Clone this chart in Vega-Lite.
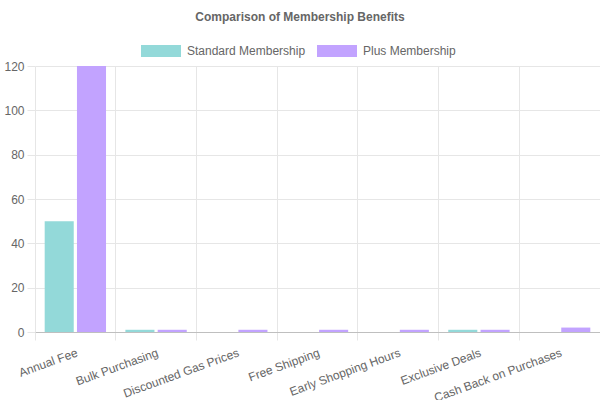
{
  "$schema": "https://vega.github.io/schema/vega-lite/v6.json",
  "autosize": {"type": "none"},
  "padding": {"left": 35, "top": 66, "right": 0, "bottom": 68},
  "width": 565,
  "height": 266,
  "background": "white",
  "title": {
    "text": "Comparison of Membership Benefits",
    "anchor": "middle",
    "frame": "group",
    "dx": -17.5,
    "fontSize": 12,
    "fontWeight": "bold",
    "color": "#666666",
    "font": "Liberation Sans",
    "offset": 7
  },
  "config": {
    "view": {"stroke": null},
    "font": "Liberation Sans"
  },
  "data": {
    "values": [
      {"benefit": "Annual Fee", "plan": "Standard Membership", "value": 50},
      {"benefit": "Annual Fee", "plan": "Plus Membership", "value": 120},
      {"benefit": "Bulk Purchasing", "plan": "Standard Membership", "value": 1},
      {"benefit": "Bulk Purchasing", "plan": "Plus Membership", "value": 1},
      {"benefit": "Discounted Gas Prices", "plan": "Standard Membership", "value": 0},
      {"benefit": "Discounted Gas Prices", "plan": "Plus Membership", "value": 1},
      {"benefit": "Free Shipping", "plan": "Standard Membership", "value": 0},
      {"benefit": "Free Shipping", "plan": "Plus Membership", "value": 1},
      {"benefit": "Early Shopping Hours", "plan": "Standard Membership", "value": 0},
      {"benefit": "Early Shopping Hours", "plan": "Plus Membership", "value": 1},
      {"benefit": "Exclusive Deals", "plan": "Standard Membership", "value": 1},
      {"benefit": "Exclusive Deals", "plan": "Plus Membership", "value": 1},
      {"benefit": "Cash Back on Purchases", "plan": "Standard Membership", "value": 0},
      {"benefit": "Cash Back on Purchases", "plan": "Plus Membership", "value": 2}
    ]
  },
  "mark": {"type": "bar"},
  "encoding": {
    "x": {
      "field": "benefit",
      "type": "nominal",
      "sort": null,
      "scale": {"paddingInner": 0, "paddingOuter": 0},
      "axis": {
        "title": null,
        "bandPosition": 0,
        "grid": true,
        "gridColor": "#e6e6e6",
        "gridOpacity": 1,
        "domain": true,
        "domainColor": "#bfbfbf",
        "ticks": true,
        "tickSize": 8,
        "tickColor": "#e6e6e6",
        "labelAngle": -20,
        "labelAlign": "right",
        "labelBaseline": "top",
        "labelPadding": 7,
        "labelFontSize": 12,
        "labelColor": "#666666",
        "labelFont": "Liberation Sans"
      }
    },
    "xOffset": {
      "field": "plan",
      "type": "nominal",
      "sort": ["Standard Membership", "Plus Membership"],
      "scale": {"paddingInner": 0.1, "paddingOuter": 0.3}
    },
    "y": {
      "field": "value",
      "type": "quantitative",
      "scale": {"domain": [0, 120], "nice": false},
      "axis": {
        "title": null,
        "values": [0, 20, 40, 60, 80, 100, 120],
        "grid": true,
        "gridColor": "#e6e6e6",
        "domain": false,
        "ticks": true,
        "tickSize": 8,
        "tickColor": "#e6e6e6",
        "labelPadding": 3,
        "labelFontSize": 12,
        "labelColor": "#666666",
        "labelFont": "Liberation Sans"
      }
    },
    "color": {
      "field": "plan",
      "type": "nominal",
      "sort": ["Standard Membership", "Plus Membership"],
      "scale": {"domain": ["Standard Membership", "Plus Membership"], "range": ["#93d9d9", "#c2a3ff"]},
      "legend": {
        "title": null,
        "orient": "none",
        "direction": "horizontal",
        "legendX": 106,
        "legendY": -35,
        "symbolType": "M-1,-0.3H1V0.3H-1Z",
        "symbolSize": 1600,
        "symbolStrokeWidth": 0,
        "symbolOpacity": 1,
        "labelFontSize": 12,
        "labelColor": "#666666",
        "labelFont": "Liberation Sans",
        "labelOffset": 6,
        "columnPadding": 11
      }
    }
  }
}
